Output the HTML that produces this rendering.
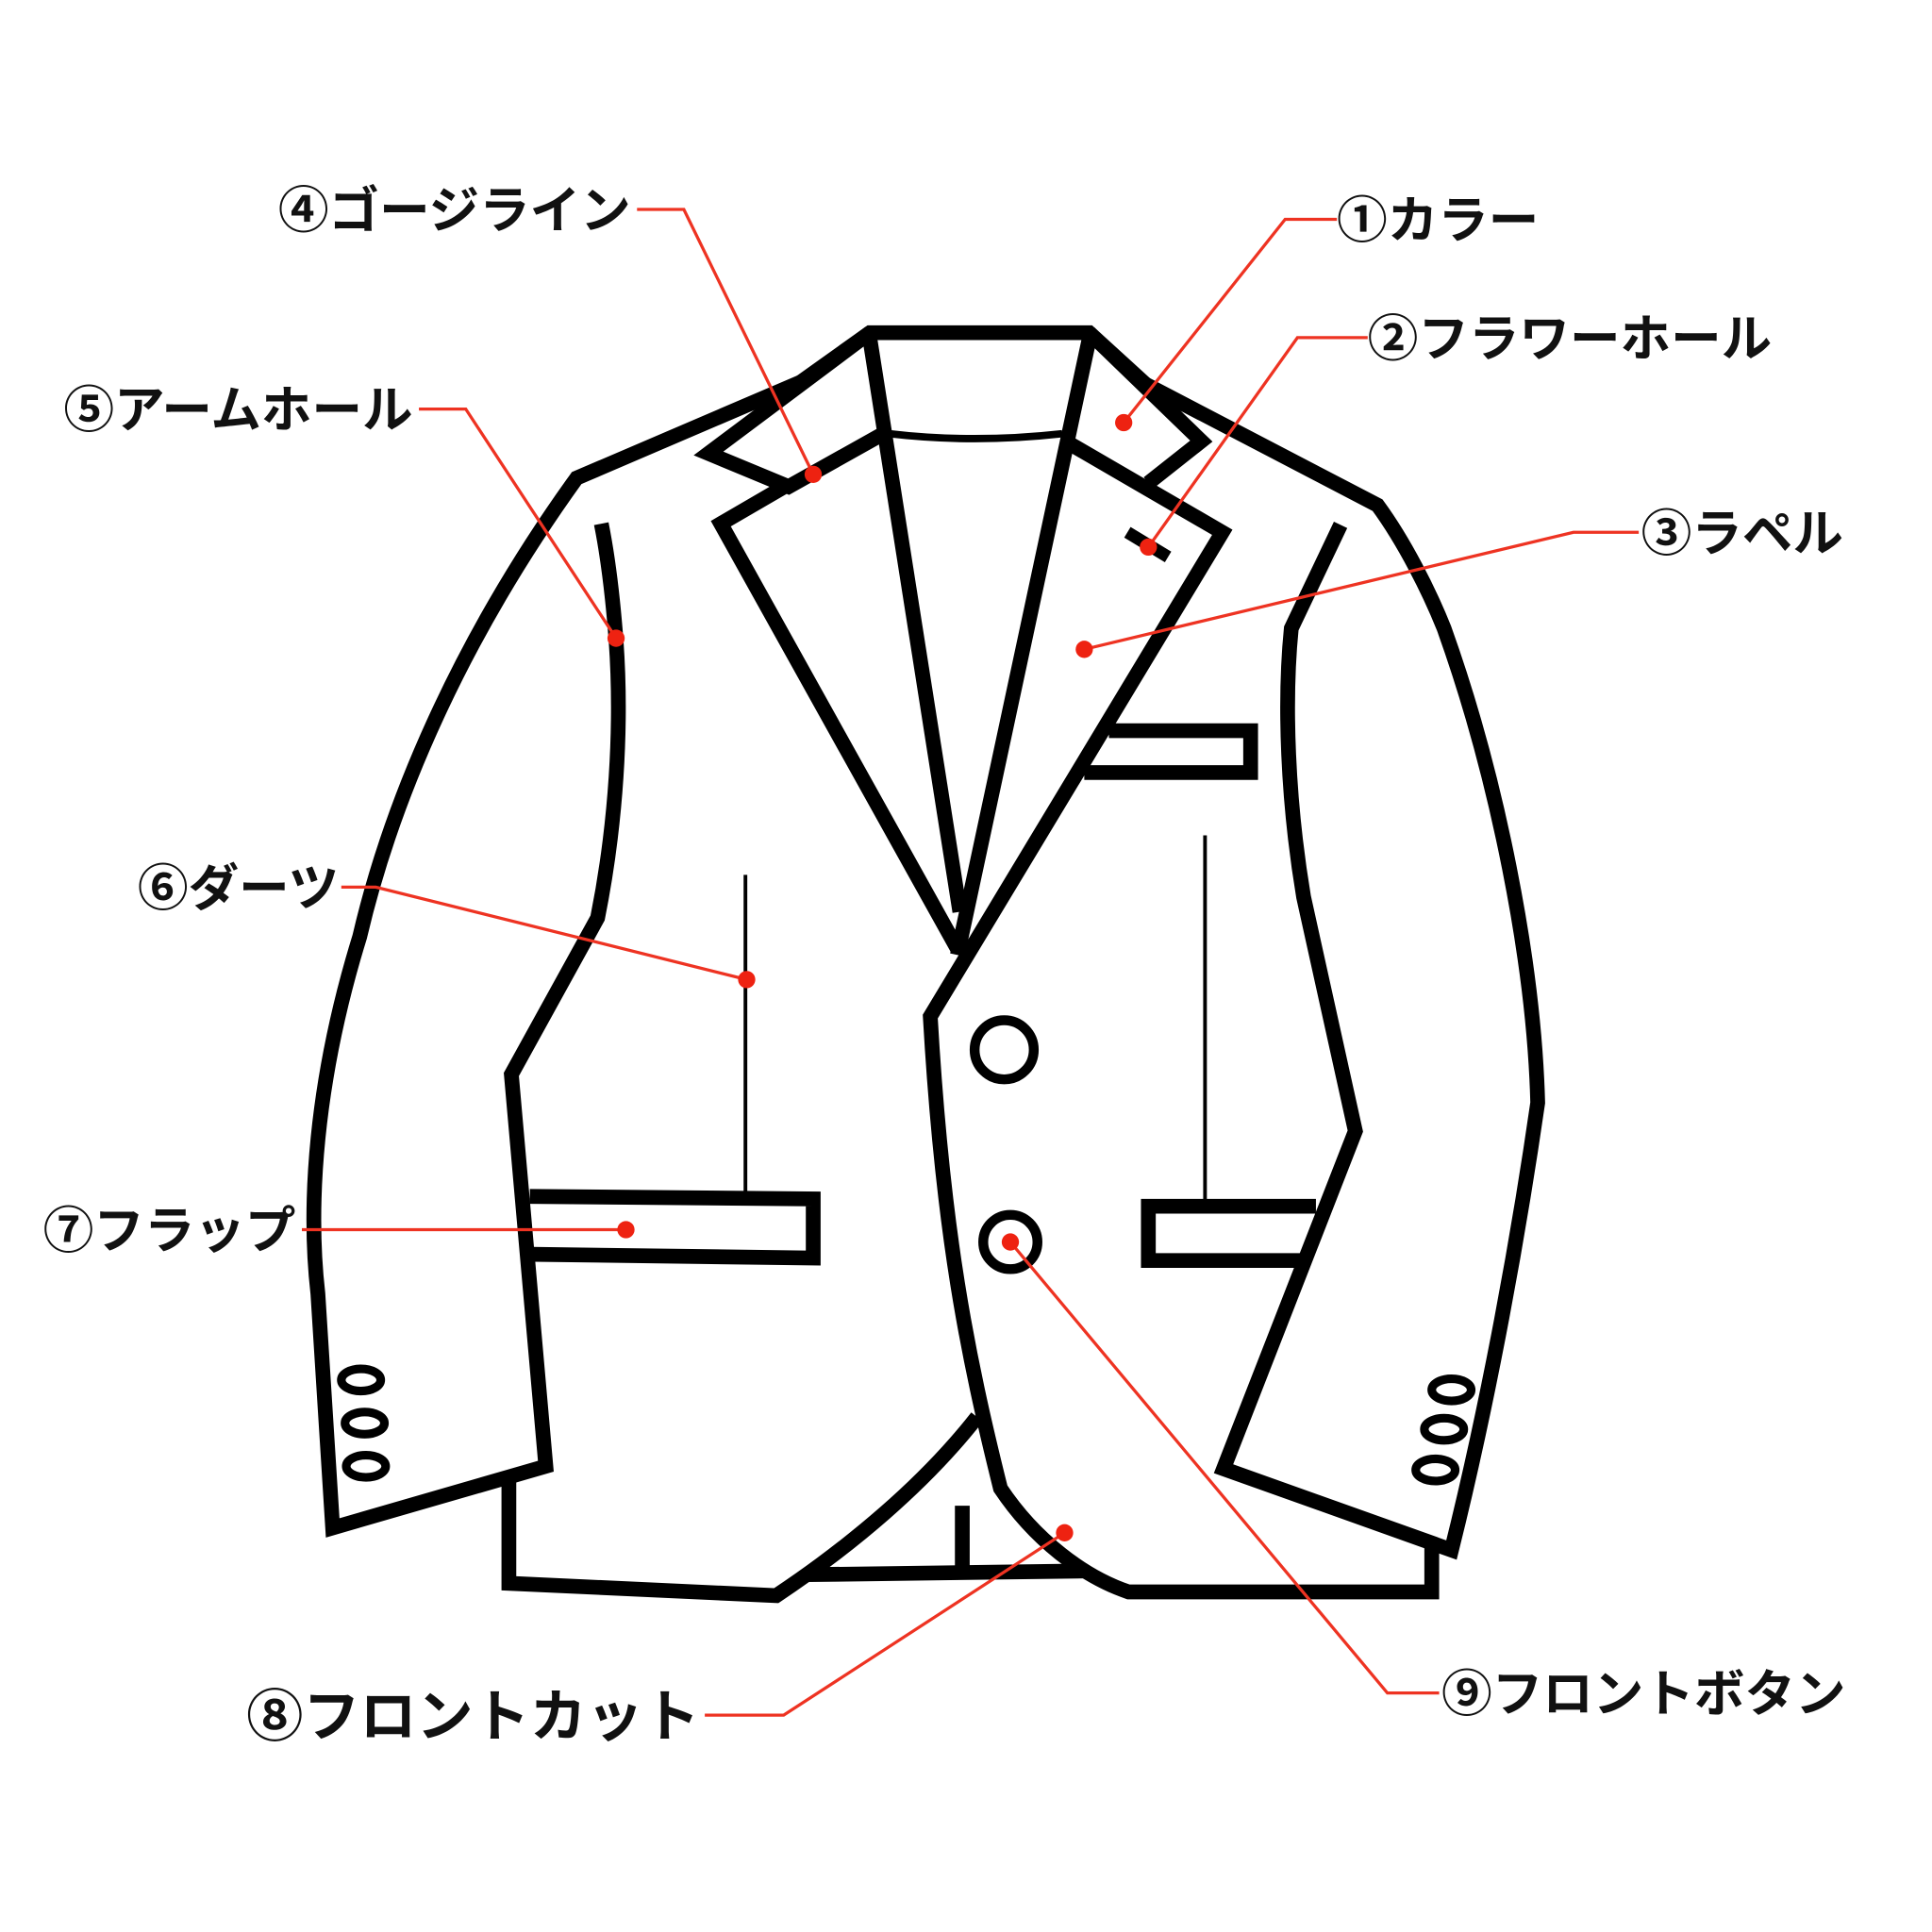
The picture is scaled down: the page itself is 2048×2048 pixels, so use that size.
<!DOCTYPE html>
<html><head><meta charset="utf-8"><style>html,body{margin:0;padding:0;background:#fff}svg{display:block}</style></head>
<body>
<svg width="2048" height="2048" viewBox="0 0 1568 1568" xmlns="http://www.w3.org/2000/svg">
<g fill="none" stroke="#000" stroke-width="12" stroke-linejoin="miter" stroke-linecap="butt">
<path d="M650,310 L468,388 C380,510 320,640 292,760 C255,880 250,980 258,1050 L270,1240 L443,1190 L415,872 L485,745 C500,670 505,590 500,520 C497,480 493,450 488,425"/>
<path d="M413,1200 L413,1285 L630,1295 C690,1255 750,1205 793,1150"/>
<path d="M655,1278 L880,1275"/>
<path d="M781,1222 L781,1272"/>
<path d="M650,310 L706,270 L884,270 L930,312"/>
<path d="M706,270 L575,368 L640,395 L715,353"/>
<path d="M640,393 L585,425 L777,770"/>
<path d="M706,275 L779,740"/>
<path d="M884,275 L777,775"/>
<path d="M722,352 Q790,360 862,352" stroke-width="6"/>
<path d="M884,270 L975,358 L932,392"/>
<path d="M868,360 L992,432 L755,825 C765,1000 785,1100 812,1208 C840,1250 880,1280 916,1292 L1162,1292 L1162,1250"/>
<path d="M930,312 L1118,410 C1140,440 1160,480 1172,510 C1215,630 1245,780 1248,895 C1230,1020 1205,1150 1178,1258 L993,1192 L1100,918 L1058,728 C1045,650 1042,570 1048,510 L1088,426"/>
<path d="M900,593 L1015,593 L1015,627 L880,627"/>
<path d="M915,432 L948,452" stroke-width="10"/>
<path d="M430,971 L660,973 L660,1021 L432,1018"/>
<path d="M1068,979 L932,979 L932,1023 L1055,1023"/>
<path d="M605,710 L605,970 M978,678 L978,975" stroke-width="3"/>
<circle cx="815" cy="852" r="24" stroke-width="8"/>
<circle cx="820" cy="1008" r="22" stroke-width="8"/>
<g stroke-width="7">
<ellipse cx="293" cy="1120" rx="16" ry="9"/><ellipse cx="296" cy="1155" rx="16" ry="9"/><ellipse cx="297" cy="1190" rx="16" ry="9"/>
<ellipse cx="1178" cy="1128" rx="16" ry="9"/><ellipse cx="1172" cy="1160" rx="16" ry="9"/><ellipse cx="1165" cy="1193" rx="16" ry="9"/>
</g>
</g>
<g fill="none" stroke="#ee3322" stroke-width="2.5">
<polyline points="912,343 1043,178 1085,178"/>
<polyline points="932,444 1053,274 1110,274"/>
<polyline points="880,527 1277,432 1330,432"/>
<polyline points="517,170 555,170 660,385"/>
<polyline points="340,332 378,332 500,518"/>
<polyline points="277,720 305,720 606,795"/>
<polyline points="245,998 508,998"/>
<polyline points="572,1392 636,1392 864,1244"/>
<polyline points="1168,1374 1126,1374 820,1008"/>
</g>
<g fill="#ee2211">
<circle cx="912" cy="343" r="7"/><circle cx="932" cy="444" r="7"/><circle cx="880" cy="527" r="7"/>
<circle cx="660" cy="385" r="7"/><circle cx="500" cy="518" r="7"/><circle cx="606" cy="795" r="7"/>
<circle cx="508" cy="998" r="7"/><circle cx="864" cy="1244" r="7"/><circle cx="820" cy="1008" r="7"/>
</g>
<g font-family="'Liberation Sans','Noto Sans CJK JP',sans-serif" font-weight="bold" font-size="41" fill="#111">
<text x="1085" y="193">①カラー</text>
<text x="1110" y="289">②フラワーホール</text>
<text x="1332" y="447">③ラペル</text>
<text x="512" y="185" text-anchor="end">④ゴージライン</text>
<text x="335" y="347" text-anchor="end">⑤アームホール</text>
<text x="275" y="735" text-anchor="end">⑥ダーツ</text>
<text x="240" y="1013" text-anchor="end">⑦フラップ</text>
<text x="568" y="1409" text-anchor="end" font-size="46">⑧フロントカット</text>
<text x="1170" y="1389">⑨フロントボタン</text>
</g>
</svg>
</body></html>
